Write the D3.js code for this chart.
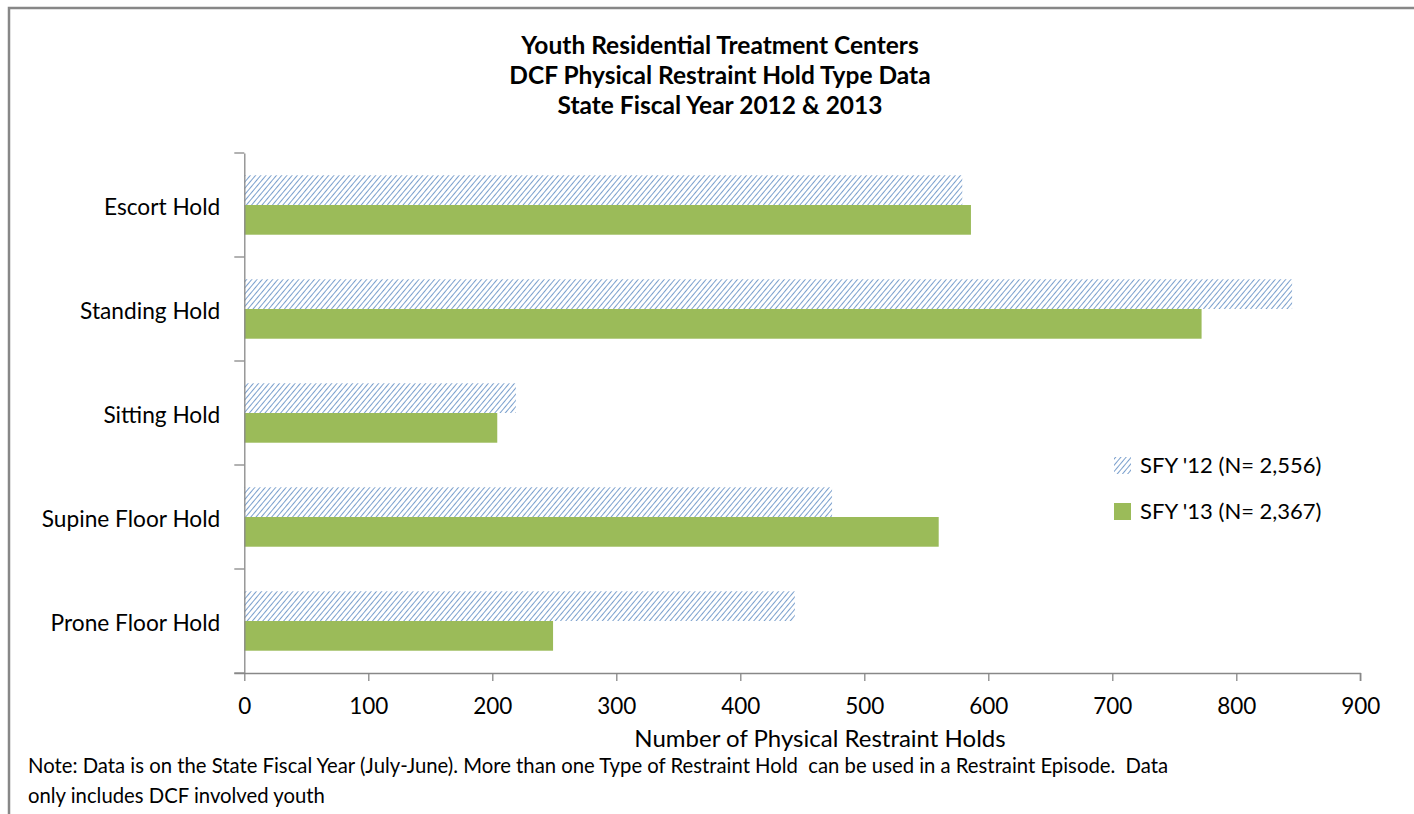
<!DOCTYPE html>
<html>
<head>
<meta charset="utf-8">
<script src="https://cdn.jsdelivr.net/npm/d3@7"></script>
<style>
  html, body { margin: 0; padding: 0; background: #fff; }
  svg { display: block; }
  text { font-family: Lato, "Open Sans", sans-serif; fill: #000; white-space: pre; }
</style>
</head>
<body>
<svg id="chart" width="1414" height="814"></svg>
<script>
const titleLines = ["Youth Residential Treatment Centers", "DCF Physical Restraint Hold Type Data", "State Fiscal Year 2012 & 2013"];
const categories = ["Escort Hold", "Standing Hold", "Sitting Hold", "Supine Floor Hold", "Prone Floor Hold"];
const seriesNames = ["SFY '12 (N= 2,556)", "SFY '13 (N= 2,367)"];
const sfy12 = [579, 845, 219, 474, 444];
const sfy13 = [586, 772, 204, 560, 249];
const xTicks = [0, 100, 200, 300, 400, 500, 600, 700, 800, 900];
const xTitle = "Number of Physical Restraint Holds";
const noteLines = ["Note: Data is on the State Fiscal Year (July-June). More than one Type of Restraint Hold  can be used in a Restraint Episode.  Data", "only includes DCF involved youth"];

const svg = d3.select("#chart");
const defs = svg.append("defs");
const pat = defs.append("pattern").attr("id", "hatch").attr("patternUnits", "userSpaceOnUse")
  .attr("width", 4).attr("height", 4).attr("patternTransform", "rotate(40)");
pat.append("rect").attr("width", 4).attr("height", 4).attr("fill", "#fff");
pat.append("line").attr("x1", 0).attr("y1", 0).attr("x2", 0).attr("y2", 4)
  .attr("stroke", "#4f81bd").attr("stroke-width", 1.5);

// frame (top & left edges visible)
svg.append("path").attr("d", "M9,814 V8 H1414").attr("fill", "none").attr("stroke", "#878787").attr("stroke-width", 2.5);

const x = d3.scaleLinear().domain([0, 900]).range([244.3, 1360.3]);
const y = d3.scaleBand().domain(categories).range([153, 673]);
const bw = y.bandwidth();
const sub = d3.scaleBand().domain([0, 1]).range([bw * 0.2143, bw * 0.7857]);

// title
svg.append("g").selectAll("text").data(titleLines).join("text")
  .attr("x", 720).attr("y", (d, i) => 54 + i * 30)
  .attr("text-anchor", "middle").attr("font-size", 24.5).attr("font-weight", "bold")
  .text(d => d);

// bars
const series = [sfy12, sfy13];
const fills = ["url(#hatch)", "#9bbb59"];
series.forEach((vals, si) => {
  svg.append("g").selectAll("rect").data(vals).join("rect")
    .attr("x", x(0))
    .attr("y", (d, i) => y(categories[i]) + sub(si))
    .attr("width", d => x(d) - x(0))
    .attr("height", sub.bandwidth())
    .attr("fill", fills[si]);
});

// axes
const xAxis = d3.axisBottom(x).tickValues(xTicks).tickSize(8).tickPadding(17).tickFormat(d3.format("d"));
const gx = svg.append("g").attr("transform", "translate(0,673)").call(xAxis);
gx.select(".domain").attr("stroke", "#888").attr("stroke-width", 1.3).attr("d", `M${x(0) - 10},0.5H${x(900)}V8`);
gx.selectAll(".tick line").attr("stroke", "#888").attr("stroke-width", 1.3);
gx.selectAll(".tick text").attr("font-size", 22.5).attr("font-family", "Lato, sans-serif").attr("fill", "#000");

const yAxis = d3.axisLeft(y).tickSize(0).tickPadding(24);
const gy = svg.append("g").attr("transform", `translate(${x(0)},0)`).call(yAxis);
gy.select(".domain").attr("stroke", "#888").attr("stroke-width", 1.3);
gy.selectAll(".tick text").attr("font-size", 22.7).attr("font-family", "Lato, sans-serif").attr("fill", "#000").attr("dy", "0.42em");
// category boundary ticks
const bounds = categories.map(c => y(c)).concat([673]);
svg.append("g").selectAll("line").data(bounds).join("line")
  .attr("x1", x(0) - 10).attr("x2", x(0)).attr("y1", d => d).attr("y2", d => d)
  .attr("stroke", "#888").attr("stroke-width", 1.3);

// axis title
svg.append("text").attr("x", 820).attr("y", 747).attr("text-anchor", "middle")
  .attr("font-size", 24).text(xTitle);

// note
svg.append("g").selectAll("text").data(noteLines).join("text")
  .attr("x", 28).attr("y", (d, i) => 773 + i * 30)
  .attr("font-size", 20.3).text(d => d);

// legend
const lg = svg.append("g");
seriesNames.forEach((n, i) => {
  const yy = 465 + i * 46;
  lg.append("rect").attr("x", 1114).attr("y", yy - 8).attr("width", 17).attr("height", 17).attr("fill", fills[i]);
  lg.append("text").attr("x", 1140).attr("y", yy + 8).attr("font-size", 22).text(n);
});
</script>
</body>
</html>
